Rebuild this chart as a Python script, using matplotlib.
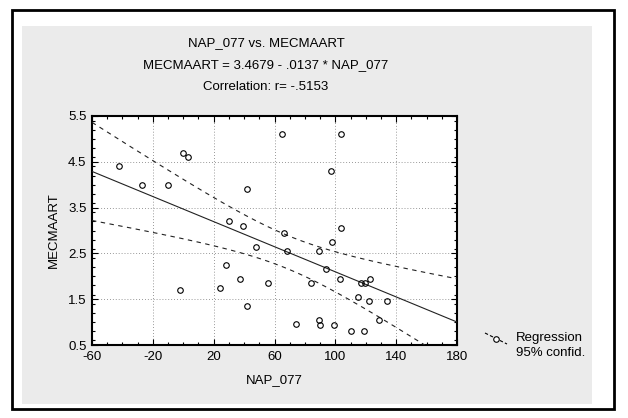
import numpy as np
import matplotlib
matplotlib.use("Agg")
import matplotlib.pyplot as plt
from matplotlib.lines import Line2D
from matplotlib.patches import Rectangle
from matplotlib.ticker import MultipleLocator

plt.rcParams['font.family'] = ['Liberation Sans', 'DejaVu Sans']

# observations
nap_077 = [-42, -27, -10, 0, 3, 65, 42, 104, 97, -2,
           30, 39, 66, 48, 68, 28, 37, 56, 24, 42,
           74, 104, 98, 89, 94, 103, 84, 117, 119.5, 123,
           115, 122, 134, 129, 89, 90, 99, 110, 119]
mecmaart = [4.4, 4.0, 4.0, 4.7, 4.6, 5.1, 3.9, 5.1, 4.3, 1.7,
            3.2, 3.1, 2.95, 2.65, 2.55, 2.25, 1.95, 1.85, 1.75, 1.35,
            0.95, 3.05, 2.75, 2.55, 2.15, 1.95, 1.85, 1.85, 1.85, 1.95,
            1.55, 1.45, 1.45, 1.05, 1.05, 0.93, 0.93, 0.8, 0.8]

# fitted model as reported
intercept = 3.4679
slope = -0.0137
r_value = -0.5153

x_ticks = [-60, -20, 20, 60, 100, 140, 180]
y_ticks = [0.5, 1.5, 2.5, 3.5, 4.5, 5.5]

x = np.array(nap_077, dtype=float)
y = np.array(mecmaart, dtype=float)
n = len(x)
resid = y - (intercept + slope * x)
s = np.sqrt(np.sum(resid ** 2) / (n - 2))
sxx = np.sum((x - x.mean()) ** 2)
t_crit = 2.026  # two-sided 95%, n-2 df

xs = np.linspace(-60, 180, 300)
yfit = intercept + slope * xs
half = t_crit * s * np.sqrt(1.0 / n + (xs - x.mean()) ** 2 / sxx)

fig = plt.figure(figsize=(6.28, 4.18), dpi=100)
W, H = 628, 418
FS = 9.5

def fx(px):
    return px / W

def fy(py):
    return 1 - py / H

# page background with outer frame
bg = Rectangle((fx(22), fy(404)), fx(592) - fx(22), fy(26) - fy(404),
               transform=fig.transFigure, facecolor='#ebebeb',
               edgecolor='none', zorder=-5)
fig.patches.append(bg)
frame = Rectangle((fx(12), fy(409)), fx(614) - fx(12), fy(10) - fy(409),
                  transform=fig.transFigure, facecolor='none',
                  edgecolor='black', linewidth=2.0, zorder=-4)
fig.patches.append(frame)

ax = fig.add_axes([fx(92), fy(345), fx(457) - fx(92), fy(116) - fy(345)])
ax.set_zorder(3)
ax.set_facecolor('white')

ax.plot(xs, yfit, color='#222222', linewidth=0.8, zorder=3)
ax.plot(xs, yfit + half, color='#222222', linewidth=0.8,
        linestyle=(0, (4, 4)), zorder=3)
ax.plot(xs, yfit - half, color='#222222', linewidth=0.8,
        linestyle=(0, (4, 4)), zorder=3)
ax.plot(x, y, linestyle='none', marker='o', markersize=4,
        markerfacecolor='none', markeredgecolor='black',
        markeredgewidth=0.8, zorder=4)

ax.set_xlim(-60, 180)
ax.set_ylim(0.5, 5.5)
ax.set_xticks(x_ticks)
ax.set_yticks(y_ticks)
ax.set_xticklabels([str(v) for v in x_ticks])
ax.set_yticklabels([f"{v:.1f}" for v in y_ticks])
ax.xaxis.set_minor_locator(MultipleLocator(10))
ax.yaxis.set_minor_locator(MultipleLocator(0.2))
ax.tick_params(which='both', direction='in', top=True, right=True,
               labelsize=FS, width=0.8, color='black', pad=4)
ax.tick_params(which='major', length=4)
ax.tick_params(which='minor', length=2)
for sp in ax.spines.values():
    sp.set_linewidth(1.5)
    sp.set_color('black')

ax.grid(True, which='major', color='#777777', linewidth=0.6,
        linestyle=(0, (1, 2.5)))
ax.set_axisbelow(True)

ax.set_xlabel('NAP_077', fontsize=FS, labelpad=8)
ax.set_ylabel('MECMAART', fontsize=FS, labelpad=6)

cx = fx(266)
fig.text(cx, fy(43), 'NAP_077 vs. MECMAART', ha='center', va='center', fontsize=FS)
fig.text(cx, fy(65), 'MECMAART = 3.4679 - .0137 * NAP_077', ha='center',
         va='center', fontsize=FS)
fig.text(cx, fy(87), 'Correlation: r= ' + f'{r_value:.4f}'.replace('-0.', '-.'),
         ha='center', va='center', fontsize=FS)

# legend key
key = Line2D([fx(485), fx(507)], [fy(333), fy(344)], transform=fig.transFigure,
             color='black', linewidth=0.8, linestyle=(0, (3, 2)))
fig.lines.append(key)
dot = Line2D([fx(496)], [fy(338.5)], transform=fig.transFigure, marker='o',
             markersize=4, markerfacecolor='white', markeredgecolor='black',
             markeredgewidth=0.8, linestyle='none')
fig.lines.append(dot)
fig.text(fx(516), fy(338), 'Regression', ha='left', va='center', fontsize=FS)
fig.text(fx(516), fy(353), '95% confid.', ha='left', va='center', fontsize=FS)

fig.savefig('out.png', dpi=100)
